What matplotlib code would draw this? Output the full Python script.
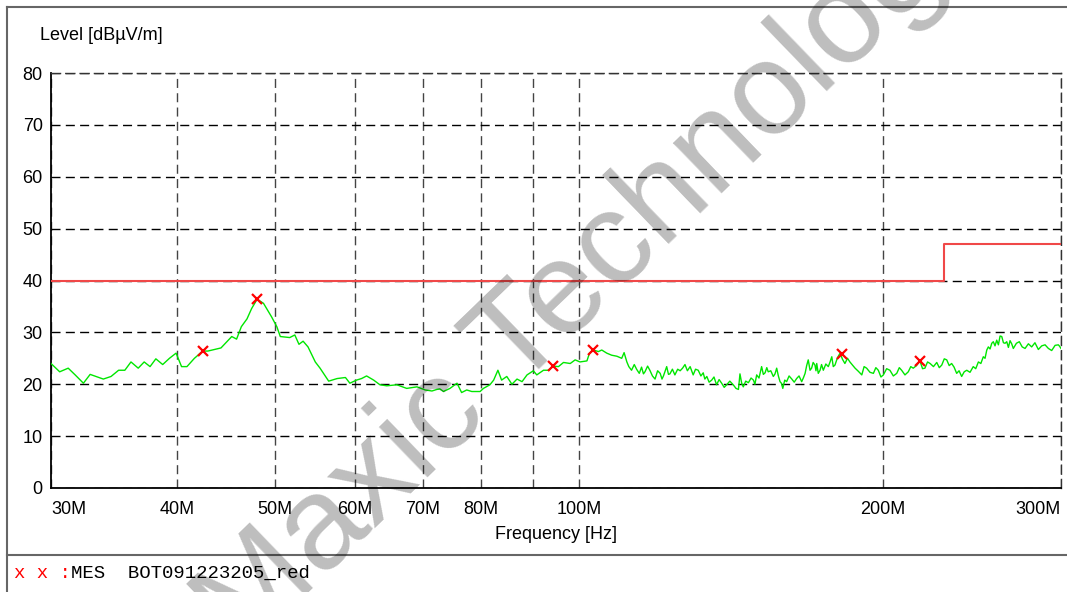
import matplotlib
matplotlib.use('Agg')
import matplotlib.pyplot as plt
from matplotlib.lines import Line2D
from matplotlib.ticker import NullLocator

freq_mhz = [
    30.0, 30.6, 31.2, 31.7, 32.3, 32.8, 33.8, 34.4, 35.0, 35.5, 36.0, 36.6, 37.1, 37.6,
    38.1, 38.7, 39.3, 39.9, 40.4, 40.9, 41.6, 42.4, 42.9, 44.2, 45.3, 45.8, 46.3, 46.9,
    47.4, 48.0, 48.7, 49.6, 50.2, 50.6, 51.7, 52.3, 52.8, 53.3, 53.9, 54.8, 55.4, 56.5,
    57.6, 58.7, 59.3, 60.2, 60.9, 61.6, 62.6, 63.5, 64.5, 66.0, 67.5, 69.1, 70.4, 71.5,
    72.3, 72.8, 73.4, 74.5, 75.7, 76.5, 77.4, 78.3, 79.8, 80.4, 81.6, 82.3, 83.1, 83.8,
    84.8, 85.8, 86.8, 87.8, 88.8, 90.1, 90.8, 92.2, 93.2, 94.3, 95.4, 96.5, 98.0, 99.1,
    100.2, 101.8, 102.4, 103.3, 104.5, 105.3, 106.5, 107.7, 109.0, 110.2, 110.8, 111.5,
    112.0, 112.7, 113.4, 114.0, 114.7, 115.3, 115.8, 116.2, 116.9, 117.5, 118.2, 118.9,
    119.6, 120.3, 120.8, 121.2, 121.7, 122.1, 122.6, 123.0, 123.7, 124.4, 125.2, 125.9,
    126.6, 127.3, 128.0, 128.8, 129.3, 129.7, 130.4, 131.2, 132.0, 132.7, 133.2, 133.8,
    134.5, 135.3, 136.0, 136.8, 137.6, 138.4, 139.2, 140.0, 141.0, 142.1, 143.0, 143.8,
    144.3, 144.9, 145.4, 146.2, 147.1, 148.0, 148.8, 149.3, 149.9, 150.7, 151.6, 152.2,
    152.8, 153.4, 153.9, 154.8, 155.7, 156.3, 156.9, 157.5, 158.1, 158.6, 159.1, 159.8,
    160.5, 161.4, 162.4, 163.3, 164.2, 165.1, 166.1, 166.8, 167.4, 168.0, 168.6, 169.3,
    169.9, 170.5, 171.2, 171.6, 171.9, 172.5, 173.2, 173.8, 174.5, 175.5, 176.5, 177.2,
    177.9, 178.5, 179.2, 180.2, 181.3, 182.3, 183.3, 184.4, 185.4, 186.5, 187.6, 189.0,
    190.5, 191.5, 192.6, 194.1, 195.6, 196.7, 197.8, 199.0, 200.1, 201.6, 203.1, 204.7,
    206.3, 207.5, 208.6, 210.2, 211.8, 213.0, 214.2, 215.8, 217.5, 218.8, 220.0, 221.3,
    222.6, 224.3, 226.0, 227.3, 228.6, 229.9, 231.2, 232.5, 233.8, 235.1, 236.5, 237.8,
    239.2, 240.6, 242.0, 243.8, 245.6, 247.0, 248.5, 249.9, 251.3, 252.3, 253.3, 254.2,
    255.2, 256.2, 257.1, 258.1, 259.1, 260.1, 261.1, 262.1, 263.1, 264.1, 265.1, 266.1,
    267.1, 268.1, 269.1, 271.0, 272.8, 274.6, 276.4, 278.5, 280.6, 282.7, 284.9, 287.1,
    289.3, 291.5, 293.7, 296.0, 298.2, 299.1, 300.0,
]
level_dbuv = [
    24.0, 22.4, 23.1, 21.8, 20.2, 21.9, 21.0, 21.5, 22.7, 22.7, 24.3, 23.1, 24.3, 23.4,
    24.9, 23.8, 25.0, 26.0, 23.4, 23.4, 25.0, 26.4, 26.4, 27.0, 29.2, 28.7, 31.1, 32.6,
    34.6, 36.4, 35.6, 33.0, 31.1, 29.2, 29.0, 29.5, 27.7, 28.3, 27.2, 24.3, 23.1, 20.6,
    21.1, 21.3, 20.2, 20.8, 21.1, 21.6, 20.8, 19.9, 19.7, 19.9, 19.2, 19.5, 18.9, 18.7,
    19.0, 19.1, 18.6, 19.2, 20.2, 18.4, 18.9, 18.6, 18.6, 19.2, 19.9, 20.8, 22.7, 20.8,
    21.5, 20.0, 21.0, 20.5, 21.8, 22.6, 21.8, 22.7, 22.7, 23.5, 23.4, 24.2, 24.0, 24.7,
    24.3, 24.5, 26.0, 26.6, 26.3, 26.6, 26.0, 25.6, 25.4, 25.0, 26.1, 24.3,
    23.4, 22.7, 23.8, 22.9, 22.1, 23.3, 22.0, 22.4, 23.5, 22.7, 21.6, 21.0,
    22.6, 22.1, 21.0, 21.6, 22.6, 23.4, 21.9, 22.0, 22.9, 21.8, 22.9, 22.6,
    23.1, 23.8, 22.6, 23.4, 22.5, 21.8, 22.9, 22.7, 21.6, 22.2, 21.0, 21.5,
    20.4, 20.8, 21.4, 19.9, 20.9, 20.2, 19.4, 19.9, 20.6, 19.9, 19.2, 19.0,
    22.0, 20.1, 19.5, 20.6, 20.3, 21.2, 20.8, 20.0, 21.8, 21.2, 23.4, 21.9,
    22.2, 23.2, 22.4, 22.6, 21.5, 22.0, 23.1, 21.6, 20.5, 20.2, 19.2, 20.8,
    20.5, 21.6, 21.0, 20.4, 21.1, 21.6, 20.5, 21.3, 22.1, 23.6, 24.7, 22.7,
    23.1, 24.2, 23.7, 22.6, 24.0, 22.1, 22.7, 23.8, 22.7, 23.9, 23.4, 24.3,
    25.3, 23.4, 23.7, 25.1, 26.0, 24.8, 24.0, 25.0, 24.3, 23.7, 23.1, 22.5,
    21.8, 23.4, 23.1, 22.3, 22.1, 23.2, 22.7, 21.4, 21.8, 23.0, 22.7, 21.6,
    22.1, 23.2, 22.7, 21.8, 22.4, 23.4, 23.1, 23.6, 24.5, 23.0, 23.1, 24.3,
    24.0, 23.4, 24.2, 23.2, 23.7, 24.9, 24.7, 23.6, 24.0, 23.3, 22.1, 22.6,
    21.5, 22.4, 22.7, 22.3, 23.4, 23.0, 24.3, 24.0, 25.3, 25.0, 26.6, 27.2,
    26.8, 27.9, 28.2, 27.4, 28.5, 27.6, 29.3, 29.2, 28.0, 27.9, 28.2, 27.1,
    28.4, 27.8, 26.9, 27.9, 28.2, 27.2, 26.9, 27.8, 27.2, 28.0, 26.7, 27.4,
    27.6, 26.9, 26.5, 27.5, 27.6, 27.3, 26.9,
]

limit_freq = [30, 230, 230, 300]
limit_level = [40, 40, 47, 47]

mark_freq = [42.4, 48.0, 94.3, 103.3, 182.0, 217.5]
mark_level = [26.4, 36.4, 23.5, 26.6, 25.8, 24.5]

xticks = [30, 40, 50, 60, 70, 80, 90, 100, 200, 300]
xticklabels = ['30M', '40M', '50M', '60M', '70M', '80M', '', '100M', '200M', '300M']
yticks = [0, 10, 20, 30, 40, 50, 60, 70, 80]

plt.rcParams['font.family'] = ['Liberation Sans', 'DejaVu Sans']

W, H = 1067, 592
fig = plt.figure(figsize=(W / 100, H / 100), dpi=100)
ax = fig.add_axes([51 / W, 1 - 488 / H, 1010 / W, 415 / H])

ax.plot(freq_mhz, level_dbuv, color='#00e600', lw=1.0, zorder=3)
ax.plot(limit_freq, limit_level, color='#f04848', lw=1.5, zorder=3)
ax.plot(mark_freq, mark_level, 'x', color='#ff0000', ms=7, mew=1.6, zorder=4)

ax.set_xscale('log')
ax.set_xlim(30, 300)
ax.set_ylim(0, 80)
ax.set_xticks(xticks)
ax.set_xticklabels(xticklabels)
ax.xaxis.set_minor_locator(NullLocator())
ax.set_yticks(yticks)
ax.tick_params(length=0, labelsize=13)
ax.tick_params(axis='x', pad=9)
ax.tick_params(axis='y', pad=6)
labels = ax.get_xticklabels()
labels[0].set_ha('left')
labels[-1].set_ha('right')

dash = (0, (6.5, 3.8))
ax.grid(True, axis='y', ls=dash, color='black', lw=1.0)
ax.grid(True, axis='x', ls=dash, color='#444444', lw=1.0)
for s in ['left', 'bottom']:
    ax.spines[s].set_linewidth(1.3)
for s in ['top', 'right']:
    ax.spines[s].set_linestyle(dash)
    ax.spines[s].set_linewidth(1.0)
    ax.spines[s].set_color('#333333')

ax.set_xlabel('Frequency [Hz]', fontsize=13, labelpad=6)
fig.text(40 / W, 1 - 36 / H, 'Level [dB\u00b5V/m]', fontsize=13, ha='left', va='center')

# outer frame
frame = dict(transform=fig.transFigure, color='#666666', lw=1.5)
fig.add_artist(Line2D([7 / W, 7 / W], [0, 1 - 7 / H], **frame))
fig.add_artist(Line2D([7 / W, 1], [1 - 7 / H, 1 - 7 / H], **frame))
fig.add_artist(Line2D([7 / W, 1], [1 - 555 / H, 1 - 555 / H], **frame))

# legend line at the bottom
fig.text(14 / W, 1 - 573 / H, 'x x :', family='Liberation Mono', fontsize=13.7,
         color='#ff0000', ha='left', va='center')
fig.text(71 / W, 1 - 573 / H, 'MES  BOT091223205_red', family='Liberation Mono',
         fontsize=13.7, color='black', ha='left', va='center')

# watermark
fig.text(595 / W, 1 - 268 / H, 'Maxic Technology', rotation=44, fontsize=95,
         color='black', alpha=0.26, ha='center', va='center',
         rotation_mode='anchor', zorder=10)

fig.savefig('out.png', dpi=100)
